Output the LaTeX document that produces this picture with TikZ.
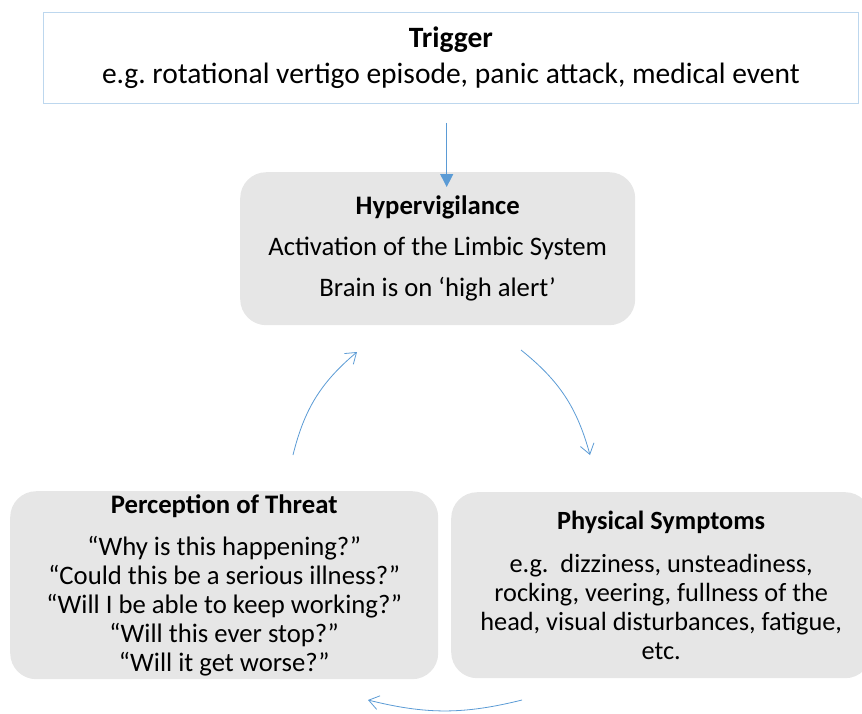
\documentclass[tikz,border=0pt]{standalone}
\usepackage{fontspec}
\setmainfont{Carlito}
\usetikzlibrary{arrows.meta}
\definecolor{bord}{HTML}{BDD7EE}
\definecolor{arr}{HTML}{5B9BD5}
\definecolor{boxfill}{HTML}{E6E6E6}
\frenchspacing
\begin{document}
\begin{tikzpicture}[x=1pt,y=-1pt,
  graybox/.style={fill=boxfill, rounded corners=26pt, anchor=north west, inner sep=0pt, align=center},
  arcarrow/.style={draw=arr, line width=0.8pt, -{Straight Barb[length=10pt,width=14pt]}}]
\useasboundingbox (0,0) rectangle (862,713);
\node[draw=bord, line width=0.8pt, anchor=north west, minimum width=815pt, minimum height=91pt, inner sep=0pt, align=center,
  font=\fontsize{29.5}{36}\selectfont] (trig) at (43,12)
  {\textbf{Trigger}\\e.g. rotational vertigo episode, panic attack, medical event};
\node[graybox, minimum width=395pt, minimum height=153pt, font=\fontsize{26.7}{41}\selectfont] (hyp) at (240,172)
  {\textbf{Hypervigilance}\\Activation of the Limbic System\\Brain is on ‘high alert’};
\node[graybox, minimum width=428pt, minimum height=188pt, font=\fontsize{26.7}{29}\selectfont] (perc) at (10,491)
  {\textbf{Perception of Threat}\\[13pt]“Why is this happening?”\\“Could this be a serious illness?”\\“Will I be able to keep working?”\\“Will this ever stop?”\\“Will it get worse?”};
\node[graybox, minimum width=420pt, minimum height=186pt, font=\fontsize{26.3}{29}\selectfont] (phys) at (451,492)
  {\textbf{Physical Symptoms}\\[14pt]e.g.\ \ dizziness, unsteadiness,\\rocking, veering, fullness of the\\head, visual disturbances, fatigue,\\etc.};
\coordinate (tip) at ([xshift=9pt,yshift=-15pt]hyp.north);
\coordinate (tail) at ([yshift=-19pt]trig.south -| tip);
\draw[draw=arr, line width=0.9pt, -{Triangle[length=13pt,width=13pt]}] (tail) -- (tip);
\coordinate (r1) at (521,350);
\coordinate (r2) at (590,455);
\coordinate (l1) at (293,455);
\coordinate (l2) at (357,352);
\coordinate (b1) at (522,700);
\coordinate (b2) at (368,700);
\draw[arcarrow] (r1) to[bend left=18] (r2);
\draw[arcarrow] (l1) to[bend left=18] (l2);
\draw[arcarrow] (b1) to[bend left=14] (b2);
\end{tikzpicture}
\end{document}
